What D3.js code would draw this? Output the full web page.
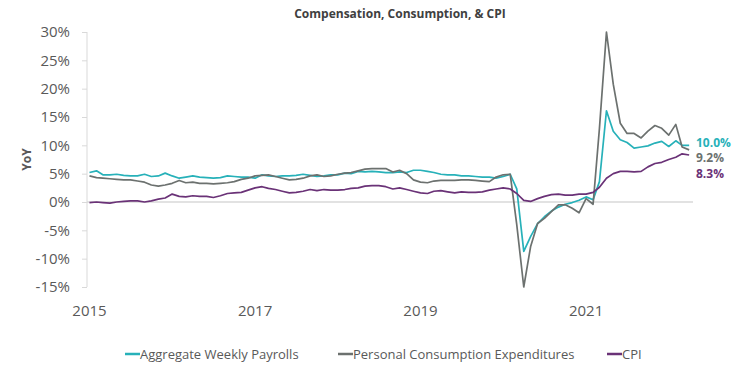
<!DOCTYPE html>
<html>
<head>
<meta charset="utf-8">
<script src="https://cdn.jsdelivr.net/npm/d3@7"></script>
<style>
  body { margin: 0; background: #fff; }
  svg { display: block; font-family: "Open Sans", sans-serif; }
</style>
</head>
<body>
<div id="chart"></div>
<script>
const width = 741
const height = 373

// Monthly YoY %, Jan 2015 - Apr 2022
const payrolls = [
  5.2, 5.5, 4.8, 4.8, 4.9, 4.7, 4.6, 4.6, 4.9, 4.5, 4.6, 5.1,
  4.6, 4.2, 4.4, 4.6, 4.4, 4.3, 4.2, 4.3, 4.6, 4.5, 4.4, 4.4,
  4.2, 4.8, 4.6, 4.5, 4.6, 4.6, 4.7, 4.9, 4.7, 4.5, 4.6, 4.8,
  4.8, 5.1, 5.0, 5.4, 5.3, 5.4, 5.3, 5.2, 5.2, 5.3, 5.2, 5.6,
  5.6, 5.4, 5.2, 4.9, 4.8, 4.8, 4.6, 4.6, 4.5, 4.4, 4.4, 4.2,
  4.5, 4.9, 2.3, -8.7, -6.1, -3.8, -2.6, -1.6, -0.9, -0.4, -0.1, 0.3,
  0.9, 0.4, 3.6, 16.1, 12.5, 11.0, 10.5, 9.5, 9.7, 9.9, 10.4, 10.7,
  9.8, 10.8, 10.0, 10.0
]
const pce = [
  4.6, 4.3, 4.2, 4.1, 4.0, 3.9, 3.9, 3.7, 3.5, 3.0, 2.8, 3.0,
  3.3, 3.8, 3.4, 3.5, 3.3, 3.3, 3.2, 3.3, 3.4, 3.6, 4.0, 4.2,
  4.6, 4.7, 4.8, 4.5, 4.2, 3.9, 4.0, 4.2, 4.6, 4.8, 4.5, 4.6,
  4.9, 5.1, 5.2, 5.5, 5.8, 5.9, 5.9, 5.9, 5.3, 5.6, 5.0, 3.9,
  3.5, 3.4, 3.7, 3.8, 3.8, 3.8, 3.9, 3.9, 3.8, 3.7, 3.6, 4.4,
  4.8, 4.9, -4.0, -15.0, -7.9, -3.8, -2.9, -1.7, -0.5, -0.5, -1.1, -1.9,
  0.6, -0.4, 13.0, 30.0, 20.8, 13.9, 12.1, 12.1, 11.3, 12.5, 13.5, 13.0,
  11.8, 13.7, 9.7, 9.2
]
const cpi = [
  -0.1, 0.0, -0.1, -0.2, 0.0, 0.1, 0.2, 0.2, 0.0, 0.2, 0.5, 0.7,
  1.4, 1.0, 0.9, 1.1, 1.0, 1.0, 0.8, 1.1, 1.5, 1.6, 1.7, 2.1,
  2.5, 2.7, 2.4, 2.2, 1.9, 1.6, 1.7, 1.9, 2.2, 2.0, 2.2, 2.1,
  2.1, 2.2, 2.4, 2.5, 2.8, 2.9, 2.9, 2.7, 2.3, 2.5, 2.2, 1.9,
  1.6, 1.5, 1.9, 2.0, 1.8, 1.6, 1.8, 1.7, 1.7, 1.8, 2.1, 2.3,
  2.5, 2.3, 1.5, 0.3, 0.1, 0.6, 1.0, 1.3, 1.4, 1.2, 1.2, 1.4,
  1.4, 1.7, 2.6, 4.2, 5.0, 5.4, 5.4, 5.3, 5.4, 6.2, 6.8, 7.0,
  7.5, 7.9, 8.5, 8.3
]
const months = d3.timeMonth.range(new Date(2015, 0, 1), new Date(2022, 4, 1))
const seriesNames = ["Aggregate Weekly Payrolls", "Personal Consumption Expenditures", "CPI"]
const seriesColors = ["#27b1b9", "#6c716f", "#6a3277"]
const xTickYears = [2015, 2017, 2019, 2021]
const yTicks = [-15, -10, -5, 0, 5, 10, 15, 20, 25, 30]

const series = [payrolls, pce, cpi].map((vals, i) => ({
  name: seriesNames[i],
  color: seriesColors[i],
  values: vals.map((v, j) => ({date: months[j], value: v}))
}))

const svg = d3.select("div#chart").append("svg").attr("width", width).attr("height", height)

// Scales
const x = d3.scaleTime()
  .domain([new Date(2014, 11, 21), new Date(2022, 3, 18)])
  .range([87, 693])
const y = d3.scaleLinear().domain([-15, 30]).range([287, 32])

// Title
svg.append("text")
  .attr("x", 400).attr("y", 18)
  .attr("text-anchor", "middle")
  .attr("font-size", 12).attr("font-weight", "bold")
  .attr("fill", "#404040")
  .text("Compensation, Consumption, & CPI")

// Y axis
const yAxisGroup = svg.append("g").attr("transform", `translate(${x.range()[0]}, 0)`)
  .call(d3.axisLeft(y).tickValues(yTicks).tickSize(5).tickPadding(12).tickFormat(d => d + "%"))
yAxisGroup.selectAll("path, line").attr("stroke", "#d9d9d9")
yAxisGroup.select(".domain").attr("d", `M0,${y(30)}V${y(-15)}`)
yAxisGroup.selectAll("text")
  .attr("font-family", "Open Sans").attr("font-size", 15).attr("fill", "#595959")

svg.append("text")
  .attr("transform", `translate(31, ${y(7.5)}) rotate(-90)`)
  .attr("text-anchor", "middle")
  .attr("font-size", 12).attr("font-weight", "bold").attr("fill", "#595959")
  .text("YoY")

// Zero line
svg.append("line")
  .attr("x1", x.range()[0]).attr("x2", x.range()[1])
  .attr("y1", y(0)).attr("y2", y(0))
  .attr("stroke", "#d9d9d9").attr("stroke-width", 1.5)

// X axis labels
svg.append("g").selectAll("text")
  .data(xTickYears)
  .enter().append("text")
  .attr("x", d => x(new Date(d, 0, 1)))
  .attr("y", 316)
  .attr("text-anchor", "middle")
  .attr("font-size", 15).attr("fill", "#595959")
  .text(d => d)

// Lines
const line = d3.line().x(d => x(d.date)).y(d => y(d.value))
svg.append("g").selectAll("path")
  .data(series)
  .enter().append("path")
  .attr("d", d => line(d.values))
  .attr("fill", "none")
  .attr("stroke", d => d.color)
  .attr("stroke-width", 1.7)
  .attr("stroke-linejoin", "round")

// End labels, pushed apart so they don't overlap
let prevY = -Infinity
series.forEach(s => {
  const last = s.values[s.values.length - 1]
  const ly = Math.max(y(last.value) - 3, prevY + 15.5)
  prevY = ly
  svg.append("text")
    .attr("x", 696).attr("y", ly)
    .attr("dy", "0.35em")
    .attr("font-size", 12).attr("font-weight", "bold")
    .attr("fill", s.color)
    .text(last.value.toFixed(1) + "%")
})

// Legend
const legendX = [125, 338, 607]
const legend = svg.append("g").selectAll("g")
  .data(series)
  .enter().append("g")
  .attr("transform", (d, i) => `translate(${legendX[i]}, 354)`)
legend.append("line")
  .attr("x1", 0).attr("x2", 15)
  .attr("stroke", d => d.color).attr("stroke-width", 2.5)
legend.append("text")
  .attr("x", 15).attr("dy", "0.35em")
  .attr("font-size", 13).attr("fill", "#595959")
  .text(d => d.name)
</script>
</body>
</html>
